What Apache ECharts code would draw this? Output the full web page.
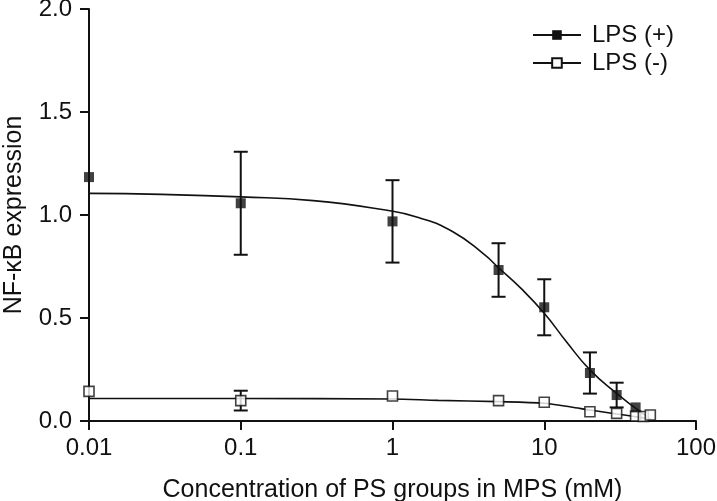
<!DOCTYPE html>
<html>
<head>
<meta charset="utf-8">
<script src="https://cdn.jsdelivr.net/npm/echarts@6/dist/echarts.min.js"></script>
<style>
html,body{margin:0;padding:0;background:#fff;}
#chart{width:717px;height:501px;}
</style>
</head>
<body>
<div id="chart"></div>
<script>
// ---- Data ----
const xTickLabels = ['0.01', '0.1', '1', '10', '100'];
const yTickLabels = ['0.0', '0.5', '1.0', '1.5', '2.0'];

const lpsPlusConc = [0.01, 0.1, 1, 5, 10, 20, 30, 40];
const lpsPlusMean = [1.184, 1.057, 0.969, 0.733, 0.552, 0.233, 0.126, 0.066];
const lpsPlusErr  = [0, 0.25, 0.2, 0.13, 0.136, 0.1, 0.06, 0];

const lpsMinusConc = [0.01, 0.1, 1, 5, 10, 20, 30, 40, 45, 50];
const lpsMinusMean = [0.144, 0.099, 0.121, 0.099, 0.091, 0.045, 0.037, 0.024, 0.022, 0.029];
const lpsMinusErr  = [0, 0.048, 0, 0, 0, 0, 0, 0, 0, 0];

const fitPlusX = [0.01, 0.03, 0.1, 0.3, 0.9, 1.5, 2.5, 4, 5, 7, 10, 14, 20, 30, 40, 47.5];
const fitPlusY = [1.105, 1.10, 1.088, 1.07, 1.024, 0.987, 0.919, 0.81, 0.744, 0.645, 0.523, 0.385, 0.248, 0.134, 0.062, 0.021];

const fitMinusX = [0.01, 0.1, 1, 2, 5, 10, 15, 20, 30, 40, 50];
const fitMinusY = [0.109, 0.109, 0.107, 0.100, 0.094, 0.086, 0.068, 0.053, 0.034, 0.021, 0.01];

const seriesNames = ['LPS (+)', 'LPS (-)'];

// ---- Build ----
const zip = (xs, ys) => xs.map((x, i) => [x, ys[i]]);
const errData = (xs, m, e) => xs.map((x, i) => [x, m[i] - e[i], m[i] + e[i]]).filter((d, i) => e[i] > 0);

const FONT = 'Liberation Sans, Arial, Helvetica, sans-serif';

function errorBarRender(params, api) {
  const x = api.value(0);
  const lo = api.coord([x, api.value(1)]);
  const hi = api.coord([x, api.value(2)]);
  const hw = 7;
  const style = { stroke: '#111', lineWidth: 2 };
  return {
    type: 'group',
    children: [
      { type: 'line', shape: { x1: lo[0], y1: lo[1], x2: hi[0], y2: hi[1] }, style },
      { type: 'line', shape: { x1: hi[0] - hw, y1: hi[1], x2: hi[0] + hw, y2: hi[1] }, style },
      { type: 'line', shape: { x1: lo[0] - hw, y1: lo[1], x2: lo[0] + hw, y2: lo[1] }, style }
    ]
  };
}

const chart = echarts.init(document.getElementById('chart'), null, { renderer: 'canvas' });

chart.setOption({
  backgroundColor: '#fff',
  animation: false,
  textStyle: { fontFamily: FONT },
  grid: { left: 89, right: 21, top: 9, bottom: 80, containLabel: false, outerBoundsMode: 'none' },
  legend: {
    data: seriesNames,
    orient: 'vertical',
    right: 38,
    top: 18,
    itemWidth: 48,
    itemHeight: 12,
    itemGap: 4,
    textStyle: { fontFamily: FONT, fontSize: 24, color: '#111', padding: [0, 0, 0, 6] }
  },
  xAxis: {
    type: 'log',
    logBase: 10,
    min: 0.01,
    max: 100,
    name: 'Concentration of PS groups in MPS (mM)',
    nameLocation: 'middle',
    nameGap: 57,
    nameTextStyle: { fontFamily: FONT, fontSize: 25, color: '#111' },
    axisLine: { lineStyle: { color: '#111', width: 2 } },
    axisTick: { show: true, length: 9, lineStyle: { color: '#111', width: 2 } },
    minorTick: { show: false },
    splitLine: { show: false },
    axisLabel: {
      fontFamily: FONT, fontSize: 24, color: '#111', margin: 15,
      formatter: (v) => {
        const i = Math.round(Math.log10(v)) + 2;
        return xTickLabels[i] !== undefined ? xTickLabels[i] : '';
      }
    }
  },
  yAxis: {
    type: 'value',
    min: 0,
    max: 2,
    interval: 0.5,
    name: 'NF-κB expression',
    nameLocation: 'middle',
    nameGap: 62,
    nameTextStyle: { fontFamily: FONT, fontSize: 25, color: '#111' },
    axisLine: { show: true, lineStyle: { color: '#111', width: 2 } },
    axisTick: { show: true, length: 9, lineStyle: { color: '#111', width: 2 } },
    splitLine: { show: false },
    axisLabel: {
      fontFamily: FONT, fontSize: 24, color: '#111', margin: 17,
      formatter: (v) => yTickLabels[Math.round(v / 0.5)]
    }
  },
  series: [
    {
      name: 'LPS (+)',
      type: 'line',
      data: zip(fitPlusX, fitPlusY),
      smooth: 0.5,
      showSymbol: false,
      symbol: 'rect',
      symbolSize: 10,
      itemStyle: { color: '#111' },
      lineStyle: { color: '#111', width: 1.6 },
      z: 2
    },
    {
      name: 'LPS (-)',
      type: 'line',
      data: zip(fitMinusX, fitMinusY),
      smooth: 0.3,
      showSymbol: false,
      symbol: 'rect',
      symbolSize: 8,
      itemStyle: { color: '#fff', borderColor: '#111', borderWidth: 1.5 },
      lineStyle: { color: '#111', width: 1.6 },
      z: 2
    },
    {
      name: 'errPlus',
      type: 'custom',
      renderItem: errorBarRender,
      data: errData(lpsPlusConc, lpsPlusMean, lpsPlusErr),
      z: 3
    },
    {
      name: 'errMinus',
      type: 'custom',
      renderItem: errorBarRender,
      data: errData(lpsMinusConc, lpsMinusMean, lpsMinusErr),
      z: 3
    },
    {
      name: 'ptsMinus',
      type: 'scatter',
      data: zip(lpsMinusConc, lpsMinusMean),
      symbol: 'rect',
      symbolSize: 10,
      itemStyle: { color: '#fff', borderColor: '#111', borderWidth: 1.6 },
      z: 4
    },
    {
      name: 'ptsPlus',
      type: 'scatter',
      data: zip(lpsPlusConc, lpsPlusMean),
      symbol: 'rect',
      symbolSize: 10,
      itemStyle: { color: '#111' },
      z: 5
    }
  ]
});
</script>
</body>
</html>
